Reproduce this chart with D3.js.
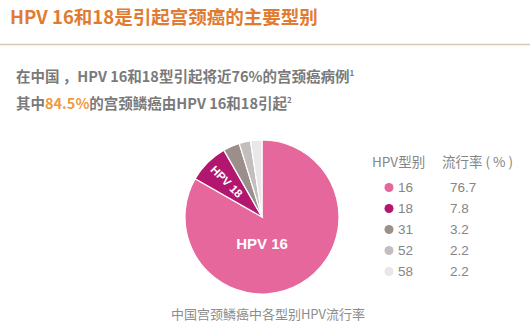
<!DOCTYPE html>
<html>
<head>
<meta charset="utf-8">
<script src="https://cdn.jsdelivr.net/npm/d3@7"></script>
<style>
  body { margin: 0; background: #fff; }
  svg { display: block; font-family: "Noto Sans CJK SC", "Noto Sans", sans-serif; }
</style>
</head>
<body>
<div id="chart"></div>
<script>
var types = ['16', '18', '31', '52', '58'];
var rates = [76.7, 7.8, 3.2, 2.2, 2.2];
var sliceLabels = ['HPV 16', 'HPV 18', '', '', ''];
var colors = ['#e6679b', '#b3166f', '#9c8f8b', '#c2bebd', '#e9e7e7'];

var w = 530, h = 336;

var svg = d3.select('#chart')
  .append('svg')
  .attr('width', w)
  .attr('height', h);

// title + rule
svg.append('text')
  .attr('x', 10).attr('y', 24)
  .attr('fill', '#e17b31')
  .attr('font-size', 18.5)
  .attr('font-weight', 'bold')
  .text('HPV 16和18是引起宫颈癌的主要型别');

svg.append('line')
  .attr('x1', 0).attr('x2', w)
  .attr('y1', 44.5).attr('y2', 44.5)
  .attr('stroke', '#d9c7b3')
  .attr('stroke-width', 1.5);

var sub1 = svg.append('text')
  .attr('x', 16).attr('y', 82)
  .attr('fill', '#7a7a7a')
  .attr('font-size', 14.5)
  .attr('font-weight', 'bold');
sub1.append('tspan').text('在中国 ，HPV 16和18型引起将近76%的宫颈癌病例');
sub1.append('tspan').attr('font-size', 8).attr('dy', -6).text('1');

var sub2 = svg.append('text')
  .attr('x', 16).attr('y', 109)
  .attr('fill', '#7a7a7a')
  .attr('font-size', 14.5)
  .attr('font-weight', 'bold');
sub2.append('tspan').text('其中');
sub2.append('tspan').attr('fill', '#ef9a3e').text('84.5%');
sub2.append('tspan').text('的宫颈鳞癌由HPV 16和18引起');
sub2.append('tspan').attr('font-size', 8).attr('dy', -6).text('2');

// pie
var cx = 262, cy = 217, r = 77;
var data = types.map(function(t, i) {
  return { type: t, val: rates[i], label: sliceLabels[i], color: colors[i] };
});

var pie = d3.pie().sort(null).value(function(d) { return d.val; });
var arc = d3.arc().innerRadius(0).outerRadius(r);
var arcs = pie(data);

var g = svg.append('g').attr('transform', 'translate(' + cx + ',' + cy + ')');

g.selectAll('path')
  .data(arcs)
  .enter()
  .append('path')
  .attr('d', arc)
  .attr('fill', function(d) { return d.data.color; })
  .attr('stroke', '#fff')
  .attr('stroke-width', 1.2);

// HPV 16 label
g.append('text')
  .attr('x', 0).attr('y', 32)
  .attr('text-anchor', 'middle')
  .attr('fill', '#fff')
  .attr('font-size', 15)
  .attr('font-weight', 'bold')
  .attr('font-family', 'Liberation Sans, Arial, sans-serif')
  .text(arcs[0].data.label);

// HPV 18 label, along the radius
var a18 = (arcs[1].startAngle + arcs[1].endAngle) / 2;
var lr = 50;
var deg = a18 * 180 / Math.PI - 270;
g.append('text')
  .attr('transform', 'translate(' + (Math.sin(a18) * lr) + ',' + (-Math.cos(a18) * lr) + ') rotate(' + deg + ')')
  .attr('text-anchor', 'middle')
  .attr('dy', '0.35em')
  .attr('fill', '#fff')
  .attr('font-size', 11.5)
  .attr('font-weight', 'bold')
  .attr('font-family', 'Liberation Sans, Arial, sans-serif')
  .text(arcs[1].data.label);

// legend table
svg.append('text')
  .attr('x', 372).attr('y', 167)
  .attr('fill', '#858585')
  .attr('font-size', 13.5)
  .text('HPV型别');
svg.append('text')
  .attr('x', 442).attr('y', 167)
  .attr('fill', '#858585')
  .attr('font-size', 13.5)
  .text('流行率 ( % )');

var rowY = d3.scaleBand().domain(types).range([177, 282]);

var rows = svg.selectAll('g.row')
  .data(data)
  .enter()
  .append('g')
  .attr('class', 'row')
  .attr('transform', function(d) { return 'translate(0,' + (rowY(d.type) + rowY.bandwidth() / 2) + ')'; });

rows.append('circle')
  .attr('cx', 389).attr('cy', 0).attr('r', 4.5)
  .attr('fill', function(d) { return d.color; });

rows.append('text')
  .attr('x', 398).attr('dy', '0.36em')
  .attr('fill', '#858585')
  .attr('font-size', 13.5)
  .attr('font-family', 'Liberation Sans, Arial, sans-serif')
  .text(function(d) { return d.type; });

rows.append('text')
  .attr('x', 450).attr('dy', '0.36em')
  .attr('fill', '#858585')
  .attr('font-size', 13.5)
  .attr('font-family', 'Liberation Sans, Arial, sans-serif')
  .text(function(d) { return d.val.toFixed(1); });

// caption
svg.append('text')
  .attr('x', 268).attr('y', 319)
  .attr('text-anchor', 'middle')
  .attr('fill', '#8c8c8c')
  .attr('font-size', 13)
  .text('中国宫颈鳞癌中各型别HPV流行率');
</script>
</body>
</html>
